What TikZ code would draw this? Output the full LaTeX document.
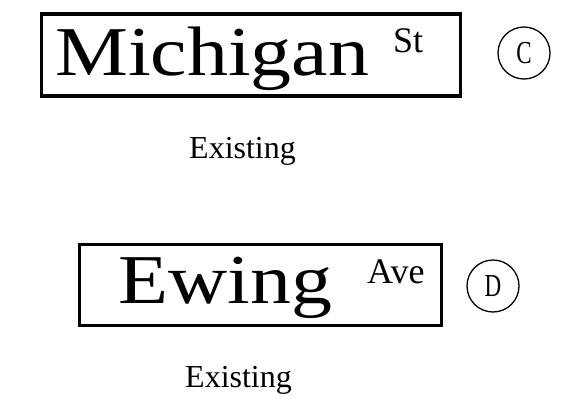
\documentclass[tikz,border=0pt]{standalone}
\usepackage{fontspec}
\setmainfont{Liberation Serif}
\usetikzlibrary{calc,positioning}
\tikzset{
  signbox/.style={draw=black,line width=3.5pt,inner sep=0pt},
  bigname/.style={inner sep=0pt,anchor=base west,font=\fontsize{70}{70}\selectfont},
  suffix/.style={inner sep=0pt,anchor=base west,font=\fontsize{36}{36}\selectfont},
  status/.style={inner sep=0pt,anchor=base west,font=\fontsize{32}{32}\selectfont},
  tag/.style={circle,draw=black,line width=1.3pt,minimum size=52pt,inner sep=0pt,font=\fontsize{32}{32}\selectfont}
}
\newcommand{\wide}[1]{\scalebox{1.17}[1]{#1}}
\newcommand{\narrow}[1]{\scalebox{0.72}[1]{#1}}
\begin{document}
\begin{tikzpicture}[x=1pt,y=-1pt]
\useasboundingbox (0,0) rectangle (561,402);
     % Michigan sign
     \node[signbox,minimum width=419pt,minimum height=82pt] (michbox) at (251,55){};
     \node[bigname] (mich) at (55,75){\wide{Michigan}};
     \node[suffix] (st) at (393,52){St};
     \node[tag] (c) at (524,53){\narrow{C}};
     \node[status] (exist1) at (189,158){Existing};
     % Ewing sign
     \node[signbox,minimum width=362pt,minimum height=81pt] (ewingbox) at (260.5,285){};
     \node[bigname] (ewing) at (118,303){\wide{Ewing}};
     \node[suffix] (ave) at (367,283){Ave};
     \node[tag] (d) at (493,286){\narrow{D}};
     \node[status] (exist2) at (185,387){Existing};
\end{tikzpicture}
\end{document}
